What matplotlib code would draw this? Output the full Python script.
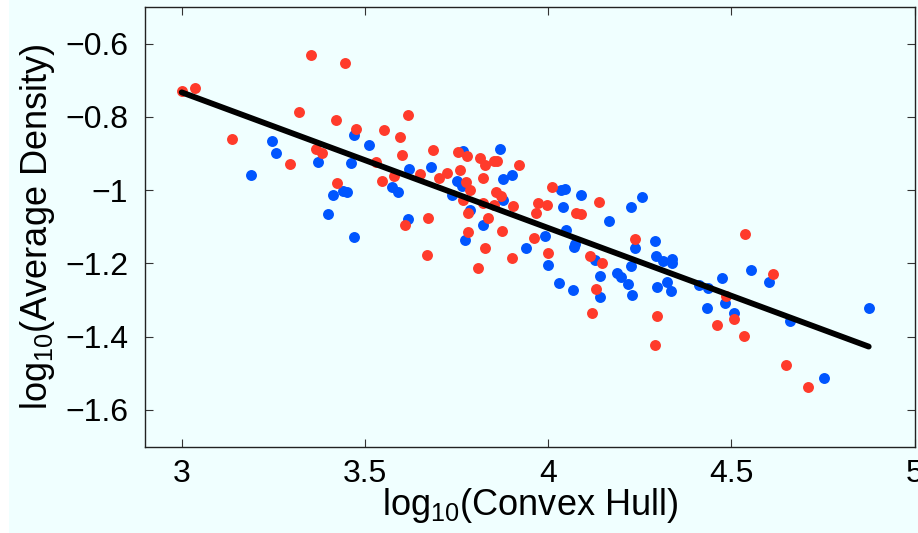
"""Scatter of log10(average density) vs log10(convex hull) with a fitted line."""

import matplotlib

matplotlib.use("Agg")
import matplotlib.pyplot as plt
from matplotlib.patches import Rectangle

plt.rcParams["font.family"] = ["Liberation Sans", "DejaVu Sans"]
plt.rcParams["mathtext.fontset"] = "custom"
plt.rcParams["mathtext.rm"] = "Liberation Sans"
plt.rcParams["mathtext.it"] = "Liberation Sans:italic"

# red group
red_x = [3.000, 3.035, 3.353, 3.447, 3.320, 3.421, 3.137, 3.366, 3.384, 3.295,
         3.423, 3.477, 3.551, 3.596, 3.531, 3.546, 3.580, 3.618, 3.602, 3.687,
         3.755, 3.778, 3.650, 3.725, 3.701, 3.760, 3.775, 3.787, 3.769, 3.781,
         3.609, 3.671, 3.781, 3.669, 3.810, 3.814, 3.828, 3.851, 3.861, 3.920,
         3.823, 3.858, 3.872, 3.822, 3.851, 3.903, 3.835, 3.873, 3.829, 3.902,
         4.011, 4.138, 3.973, 3.998, 3.967, 4.076, 4.089, 3.962, 3.999, 4.113,
         4.148, 4.131, 4.119, 4.237, 4.537, 4.296, 4.486, 4.508, 4.462, 4.534,
         4.293, 4.614, 4.650, 4.708]
red_y = [-0.730, -0.721, -0.630, -0.652, -0.788, -0.808, -0.861, -0.888, -0.899, -0.929,
         -0.980, -0.832, -0.836, -0.855, -0.922, -0.974, -0.962, -0.795, -0.905, -0.891,
         -0.896, -0.907, -0.956, -0.953, -0.966, -0.944, -0.977, -0.999, -1.028, -1.063,
         -1.095, -1.075, -1.114, -1.178, -1.213, -0.913, -0.931, -0.920, -0.921, -0.931,
         -0.966, -1.004, -1.016, -1.034, -1.040, -1.044, -1.075, -1.111, -1.159, -1.186,
         -0.991, -1.033, -1.035, -1.041, -1.062, -1.063, -1.065, -1.130, -1.172, -1.179,
         -1.198, -1.270, -1.336, -1.132, -1.119, -1.343, -1.288, -1.352, -1.367, -1.399,
         -1.422, -1.229, -1.477, -1.537]

# blue group
blue_x = [3.247, 3.257, 3.372, 3.189, 3.412, 3.400, 3.469, 3.512, 3.461, 3.441,
          3.452, 3.574, 3.590, 3.769, 3.621, 3.681, 3.751, 3.764, 3.737, 3.786,
          3.619, 3.773, 3.470, 3.869, 3.876, 3.902, 3.878, 3.822, 4.036, 4.046,
          4.091, 4.040, 4.165, 4.255, 4.227, 4.049, 3.991, 3.940, 4.072, 4.074,
          4.001, 4.128, 4.143, 4.187, 4.198, 4.217, 4.225, 4.031, 4.069, 4.143,
          4.230, 4.237, 4.293, 4.294, 4.313, 4.337, 4.337, 4.555, 4.296, 4.324,
          4.336, 4.411, 4.436, 4.474, 4.484, 4.434, 4.506, 4.602, 4.661, 4.877,
          4.752]
blue_y = [-0.865, -0.898, -0.924, -0.959, -1.012, -1.065, -0.849, -0.877, -0.926, -1.002,
          -1.006, -0.991, -1.006, -0.893, -0.942, -0.937, -0.974, -0.990, -1.012, -1.054,
          -1.078, -1.137, -1.129, -0.889, -0.969, -0.958, -1.027, -1.095, -0.999, -0.997,
          -1.014, -1.047, -1.085, -1.020, -1.046, -1.110, -1.125, -1.158, -1.156, -1.146,
          -1.204, -1.190, -1.235, -1.226, -1.238, -1.255, -1.208, -1.254, -1.272, -1.291,
          -1.287, -1.158, -1.139, -1.181, -1.193, -1.188, -1.200, -1.218, -1.263, -1.252,
          -1.274, -1.259, -1.267, -1.240, -1.309, -1.322, -1.334, -1.250, -1.356, -1.322,
          -1.513]

# fitted line end points
fit_x = [3.000, 4.875]
fit_y = [-0.733, -1.427]

xticks = [3, 3.5, 4, 4.5, 5]
xtick_labels = ["3", "3.5", "4", "4.5", "5"]
yticks = [-1.6, -1.4, -1.2, -1.0, -0.8, -0.6]
ytick_labels = ["\u22121.6", "\u22121.4", "\u22121.2", "\u22121", "\u22120.8", "\u22120.6"]

bg = "#f0ffff"
fig = plt.figure(figsize=(9.18, 5.33), dpi=100, facecolor=bg)
fig.patches.append(Rectangle((0, 0), 9 / 918, 1, transform=fig.transFigure,
                             facecolor="white", edgecolor="none", zorder=-1))
ax = fig.add_axes([0.158, 0.1621, 0.9962 - 0.158, 0.9869 - 0.1621])
ax.set_facecolor(bg)

ax.scatter(blue_x, blue_y, s=62, color="#0055ff", linewidths=0, zorder=2)
ax.scatter(red_x, red_y, s=62, color="#ff3b2b", linewidths=0, zorder=2)
ax.plot(fit_x, fit_y, color="black", linewidth=4.2, solid_capstyle="round", zorder=3)

ax.set_xlim(2.9, 5)
ax.set_ylim(-1.7, -0.5)
ax.set_xticks(xticks, xtick_labels)
ax.set_yticks(yticks, ytick_labels)
ax.tick_params(direction="in", length=5.5, width=0.8, labelsize=23,
               top=True, right=True, color="#333333")
ax.tick_params(axis="x", pad=9)
ax.tick_params(axis="y", pad=12)
for sp in ax.spines.values():
    sp.set_linewidth(1.0)
    sp.set_color("#222222")

ax.set_xlabel(r"log$_{10}$(Convex Hull)", fontsize=26, labelpad=-2)
ax.set_ylabel(r"log$_{10}$(Average Density)", fontsize=26, labelpad=6)

fig.savefig("out.png", dpi=100, facecolor=bg)
